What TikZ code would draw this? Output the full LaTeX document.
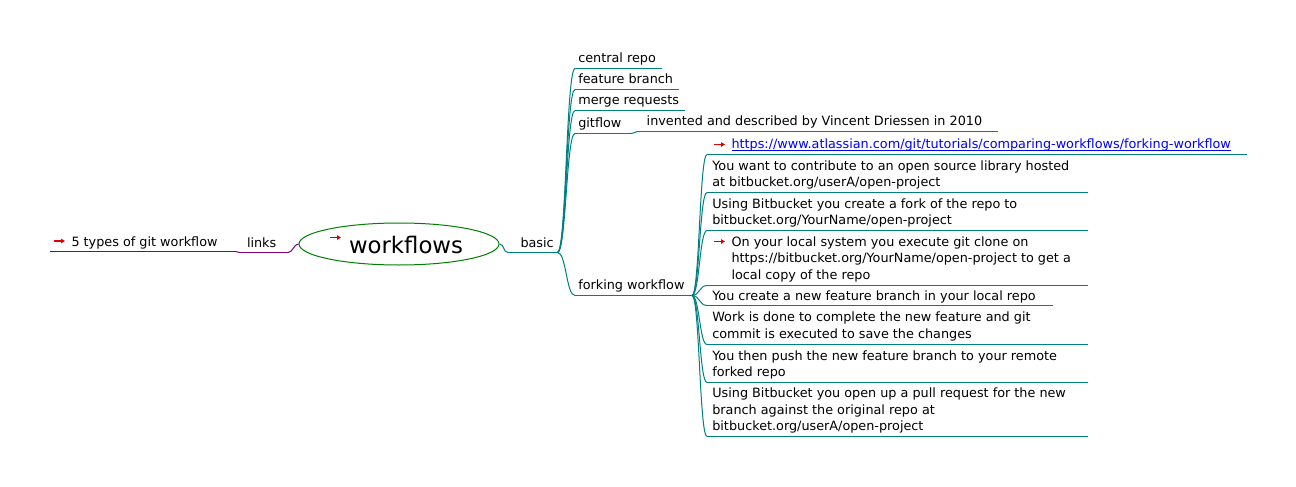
\documentclass[tikz,border=0pt]{standalone}
\usepackage{fontspec}
\setmainfont{DejaVu Sans}
\usetikzlibrary{shapes.geometric,arrows.meta,calc}
\definecolor{edgeteal}{RGB}{0,128,128}
\definecolor{edgepurp}{RGB}{128,0,128}
\definecolor{rootgreen}{RGB}{0,128,0}
\definecolor{iconred}{RGB}{225,0,0}
\definecolor{linkblue}{RGB}{0,0,255}
\tikzset{
  txt/.style={inner sep=0pt, outer sep=0pt, anchor=south west, text depth=0pt, align=left,
    font=\fontsize{12.8}{16.5}\selectfont},
  tl/.style={draw=edgeteal, line width=1pt},
  pl/.style={draw=edgepurp, line width=1pt},
  icon/.style={draw=iconred, line width=1.4pt, -{Triangle[length=4pt,width=4.5pt]}},
}
\begin{document}
\begin{tikzpicture}[x=1pt,y=-1pt]
\useasboundingbox[fill=white] (0,0) rectangle (1296,487);

% root
\node[draw=rootgreen, line width=1pt, ellipse, minimum width=200, minimum height=42, inner sep=0pt] (root) at (399,244) {};
\node[txt, font=\fontsize{22.8}{27}\selectfont] (rtext) at (349,253) {workflows};
\coordinate (ricA) at (330,237.5); \coordinate (ricB) at (341,237.5);
\draw[icon] (ricA) -- (ricB);

% left side
\coordinate (lkL) at (240,252.5); \coordinate (lkR) at (288,252.5);
\node[txt] (links) at (247,247.5) {links};
\coordinate (ftL) at (50,251.5); \coordinate (ftR) at (235,251.5);
\node[txt] (five) at (71.5,246) {5 types of git workflow};
\coordinate (ficA) at (54,241); \coordinate (ficB) at (65,241);
\draw[icon] (ficA) -- (ficB);
\draw[pl] (lkL) -- (lkR);
\draw[pl] (ftL) -- (ftR);
\draw[pl] (root.west) .. controls +(-5,0) and +(5,0) .. (lkR);
\draw[pl] (lkL) .. controls +(-2.5,0) and +(2.5,0) .. (ftR);

% basic
\coordinate (bL) at (508,252.5); \coordinate (bR) at (557.5,252.5);
\node[txt] (basic) at (520.5,247.3) {basic};
\draw[tl] (bL) -- (bR);
\draw[tl] (root.east) .. controls +(5,0) and +(-5,0) .. (bL);

% basic children
\coordinate (crL) at (575,68.5); \coordinate (crR) at (662,68.5);
\node[txt] (cr) at (578.3,62.8) {central repo};
\coordinate (fbL) at (575,89.5); \coordinate (fbR) at (679.3,89.5);
\node[txt] (fb) at (578.3,83.8) {feature branch};
\coordinate (mrL) at (575,110.5); \coordinate (mrR) at (685,110.5);
\node[txt] (mr) at (578.3,104.8) {merge requests};
\coordinate (gfL) at (575,133.5); \coordinate (gfR) at (630,133.5);
\node[txt] (gf) at (578.3,127.8) {gitflow};
\coordinate (ivL) at (639,131.5); \coordinate (ivR) at (998,131.5);
\node[txt] (iv) at (646.7,125.5) {invented and described by Vincent Driessen in 2010};
\coordinate (fwL) at (575,295.5); \coordinate (fwR) at (692,295.5);
\node[txt] (fw) at (578.3,289.5) {forking workflow};

\foreach \n in {cr,fb,mr,gf,iv,fw} {\draw[tl] (\n L) -- (\n R);}
\foreach \n in {cr,fb,mr,gf,fw} {\draw[tl] (bR) .. controls +(8.75,0) and +(-8.75,0) .. (\n L);}
\draw[tl] (gfR) .. controls +(4.5,0) and +(-4.5,0) .. (ivL);

% forking workflow children
\coordinate (lkaL) at (707,154.5); \coordinate (lkaR) at (1246.5,154.5);
\node[txt, text=linkblue] (lka) at (731.5,148.3) {https://www.atlassian.com/git/tutorials/comparing-workflows/forking-workflow};
\draw[linkblue, line width=0.8pt] ([yshift=-1.6pt]lka.south west) -- ([yshift=-1.6pt]lka.south east);
\coordinate (licA) at (714,144.5); \coordinate (licB) at (725,144.5);
\draw[icon] (licA) -- (licB);

\coordinate (c1L) at (707,192.5); \coordinate (c1R) at (1088,192.5);
\node[txt] (c1) at (712.3,186.5) {You want to contribute to an open source library hosted\\at bitbucket.org/userA/open-project};
\coordinate (c2L) at (707,230.5); \coordinate (c2R) at (1088,230.5);
\node[txt] (c2) at (712.3,224.5) {Using Bitbucket you create a fork of the repo to\\bitbucket.org/YourName/open-project};
\coordinate (c3L) at (707,285.5); \coordinate (c3R) at (1088,285.5);
\node[txt] (c3) at (731.5,279.3) {On your local system you execute git clone on\\https://bitbucket.org/YourName/open-project to get a\\local copy of the repo};
\coordinate (cicA) at (714,241.5); \coordinate (cicB) at (725,241.5);
\draw[icon] (cicA) -- (cicB);
\coordinate (c4L) at (707,305.5); \coordinate (c4R) at (1053.3,305.5);
\node[txt] (c4) at (712.3,300) {You create a new feature branch in your local repo};
\coordinate (c5L) at (707,344.5); \coordinate (c5R) at (1088,344.5);
\node[txt] (c5) at (712.3,338.2) {Work is done to complete the new feature and git\\commit is executed to save the changes};
\coordinate (c6L) at (707,382.5); \coordinate (c6R) at (1088,382.5);
\node[txt] (c6) at (712.3,376.5) {You then push the new feature branch to your remote\\forked repo};
\coordinate (c7L) at (707,436.5); \coordinate (c7R) at (1088,436.5);
\node[txt] (c7) at (712.3,430.5) {Using Bitbucket you open up a pull request for the new\\branch against the original repo at\\bitbucket.org/userA/open-project};

\foreach \n in {lka,c1,c2,c3,c4,c5,c6,c7} {
  \draw[tl] (\n L) -- (\n R);
  \draw[tl] (fwR) .. controls +(7.5,0) and +(-7.5,0) .. (\n L);
}
\end{tikzpicture}
\end{document}
